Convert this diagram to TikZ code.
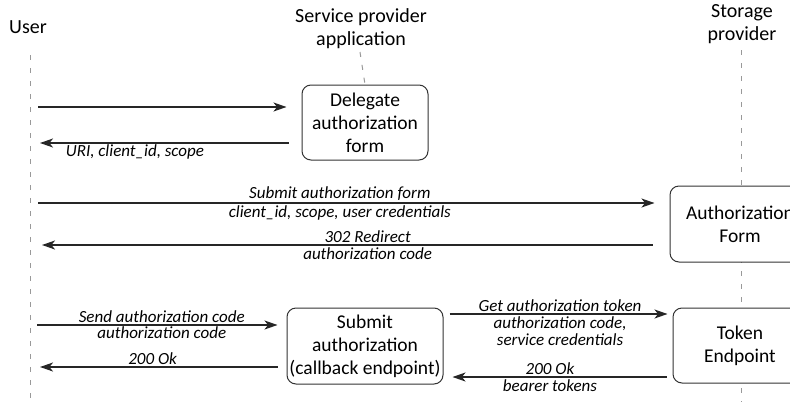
\documentclass[tikz,border=0pt]{standalone}
\usepackage{fontspec}
\setmainfont{Carlito}
\usetikzlibrary{arrows.meta}

\tikzset{
	actor/.style={font=\fontsize{20}{23}\selectfont, align=center, inner sep=0pt},
	lifeline/.style={draw=black!40, line width=1pt, dash pattern=on 5pt off 8pt},
	stepbox/.style={draw=black!80, fill=white, rounded corners=9pt, line width=1pt, align=center, font=\fontsize{19.5}{23}\selectfont, inner sep=0pt},
	msg/.style={draw=black!85, line width=1.2pt, -{Stealth[length=13pt,width=9pt,inset=3.5pt]}},
	lbl/.style={font=\fontsize{17}{17.5}\selectfont\itshape, inner sep=2pt},
}

\begin{document}
\begin{tikzpicture}[x=1pt, y=-1pt]
		\useasboundingbox (0,0) rectangle (790,402);
		
		\node[actor] (Uname) at (28,27){User};
		\node[actor] (SPname) at (361,29){Service provider\\application};
		\node[actor] (STname) at (742,24){Storage\\provider};
		
		\coordinate (Utop) at (30,55);
		\coordinate (Ubot) at (30,402);
		\coordinate (SPtop) at (360,52);
		\coordinate (STtop) at (741,50);
		\coordinate (STbot) at (741,402);
		
		\draw[lifeline] (Utop) -- (Ubot);
		\draw[lifeline] (STtop) -- (STbot);
		
		\node[stepbox, minimum width=126, minimum height=75] (DAF) at (365,122.5){Delegate\\authorization\\form};
		\node[stepbox, minimum width=140, minimum height=76] (AF) at (740,224){Authorization\\Form};
		\node[stepbox, minimum width=156, minimum height=76] (SA) at (365,346){Submit\\authorization\\(callback endpoint)};
		\node[stepbox, minimum width=134, minimum height=75] (TE) at (740,345.5){Token\\Endpoint};
		
		\draw[lifeline] (SPtop) -- (DAF.north);
		
		\coordinate (u1) at (38,107);
		\coordinate (u2) at (40,143);
		\coordinate (u3) at (38,203);
		\coordinate (u4) at (42,245);
		\coordinate (u5) at (37,325);
		\coordinate (u6) at (40,367);
		
		\draw[msg, shorten >=15pt] (u1) -- (u1 -| DAF.west);
		\draw[msg, shorten <=13pt] (u2 -| DAF.west) -- node[lbl, below, pos=0.637, inner sep=1pt]{URI, client\_id, scope} (u2);
		
		\draw[msg, shorten >=15pt] (u3) -- node[lbl, above, pos=0.478]{Submit authorization form} node[lbl, below, pos=0.478]{client\_id, scope, user credentials} (u3 -| AF.west);
		\draw[msg, shorten <=17pt] (u4 -| AF.west) -- node[lbl, above, pos=0.481]{302 Redirect} node[lbl, below, pos=0.481]{authorization code} (u4);
		
		\draw[msg, shorten >=9pt] (u5) -- node[lbl, above, pos=0.5, inner sep=1.5pt]{Send authorization code} node[lbl, below, pos=0.5, inner sep=1.5pt]{authorization code} (u5 -| SA.west);
		\draw[msg, shorten <=9pt] (u6 -| SA.west) -- node[lbl, above, pos=0.543]{200 Ok} (u6);
		
		\draw[msg, shorten <=6pt, shorten >=5pt] ([yshift=32pt]SA.east) -- node[lbl, above, pos=0.509]{Get authorization token} node[lbl, below, pos=0.509, align=center]{authorization code,\\service credentials} ([yshift=31.5pt]TE.west);
		\draw[msg, shorten <=6pt, shorten >=9pt] ([yshift=-31.5pt]TE.west) -- node[lbl, above, pos=0.535]{200 Ok} node[lbl, below, pos=0.535]{bearer tokens} ([yshift=-31pt]SA.east);
	\end{tikzpicture}
\end{document}
